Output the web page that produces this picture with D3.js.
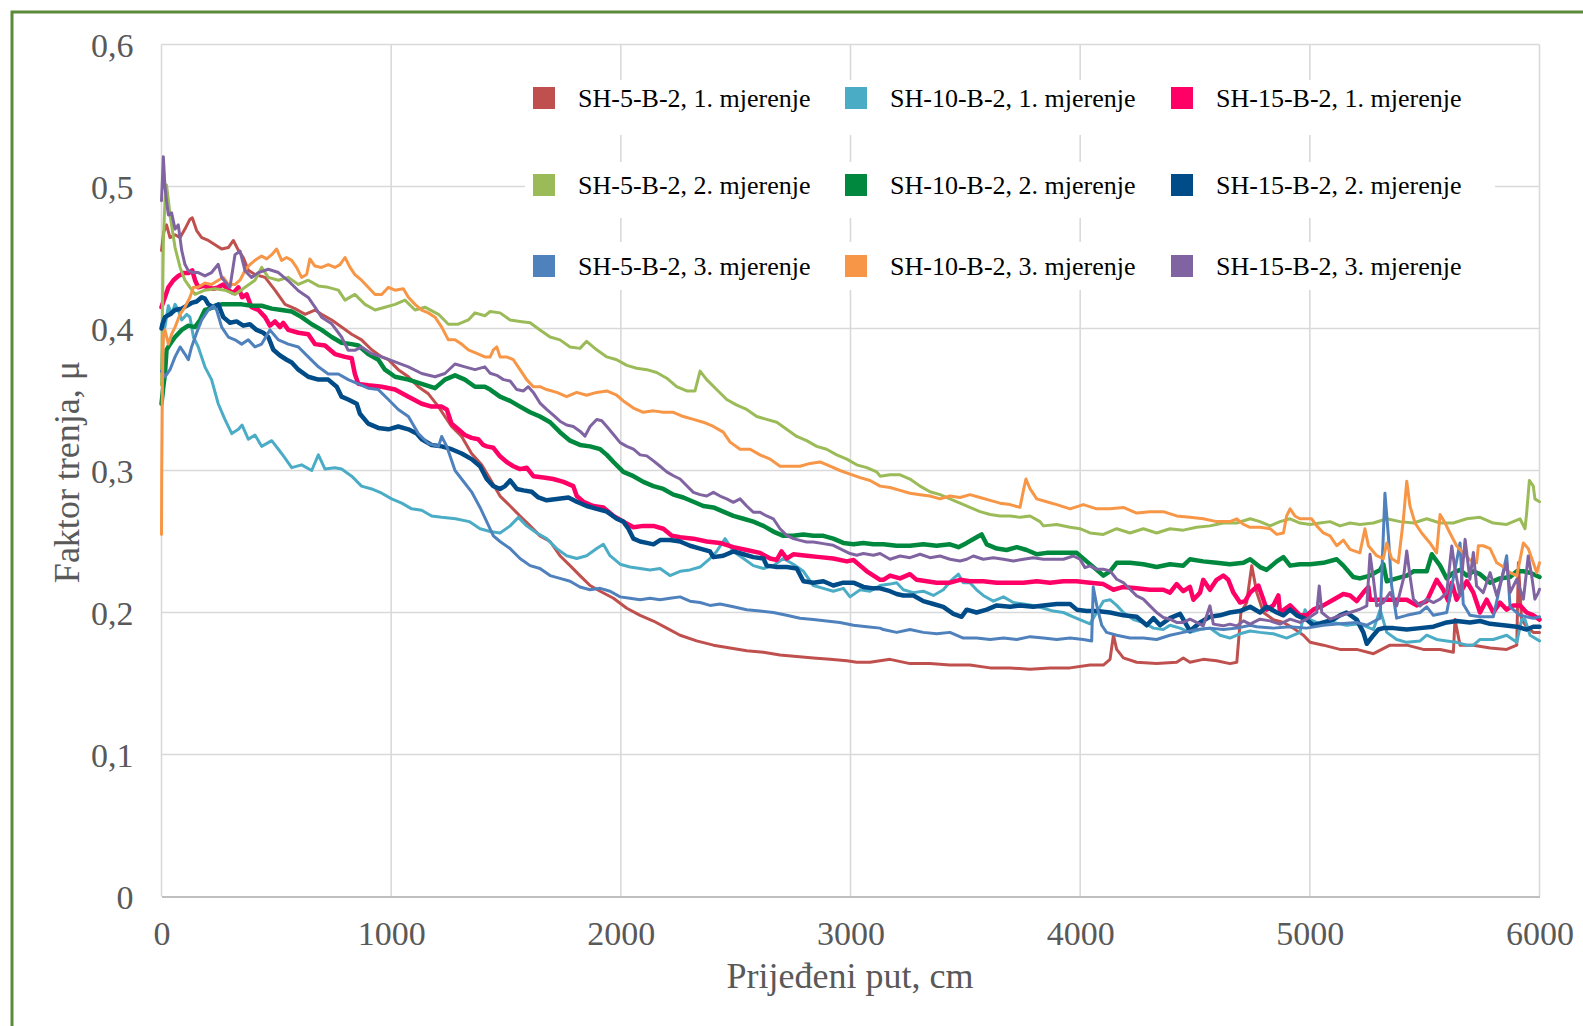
<!DOCTYPE html>
<html>
<head>
<meta charset="utf-8">
<script src="https://cdn.jsdelivr.net/npm/d3@7"></script>
<style>
html,body{margin:0;padding:0;background:#fff;}
svg{display:block;}
</style>
</head>
<body>
<svg id="chart" width="1583" height="1026"></svg>
<script>
// ---------- DATA (distance in cm, friction factor μ) ----------
const seriesNames = [
  "SH-5-B-2, 1. mjerenje","SH-10-B-2, 1. mjerenje","SH-15-B-2, 1. mjerenje",
  "SH-5-B-2, 2. mjerenje","SH-10-B-2, 2. mjerenje","SH-15-B-2, 2. mjerenje",
  "SH-5-B-2, 3. mjerenje","SH-10-B-2, 3. mjerenje","SH-15-B-2, 3. mjerenje"
];
const xTicks = [0,1000,2000,3000,4000,5000,6000];
const yTicks = [0,0.1,0.2,0.3,0.4,0.5,0.6];
const yTickLabels = ["0","0,1","0,2","0,3","0,4","0,5","0,6"];
const xTitle = "Prijeđeni put, cm";
const yTitle = "Faktor trenja, μ";

const sh5_1 = [[0,0.455],[10,0.468],[22,0.473],[37,0.464],[59,0.466],[81,0.464],[102,0.470],[124,0.477],[134,0.478],[153,0.469],[175,0.464],[204,0.462],[233,0.459],[262,0.456],[291,0.457],[313,0.462],[335,0.455],[356,0.450],[378,0.441],[407,0.438],[451,0.436],[494,0.427],[538,0.417],[581,0.414],[625,0.410],[668,0.413],[697,0.410],[741,0.406],[784,0.401],[828,0.396],[871,0.392],[915,0.385],[959,0.380],[988,0.378],[1031,0.371],[1075,0.366],[1118,0.359],[1162,0.354],[1206,0.345],[1234,0.338],[1263,0.331],[1307,0.324],[1350,0.312],[1394,0.304],[1431,0.294],[1474,0.282],[1518,0.275],[1561,0.268],[1605,0.261],[1648,0.254],[1692,0.250],[1735,0.240],[1779,0.233],[1822,0.226],[1866,0.219],[1910,0.215],[1968,0.210],[2026,0.203],[2084,0.198],[2142,0.194],[2200,0.189],[2258,0.184],[2330,0.180],[2403,0.177],[2476,0.175],[2548,0.173],[2621,0.172],[2693,0.170],[2766,0.169],[2838,0.168],[2911,0.167],[2984,0.166],[3027,0.165],[3085,0.165],[3172,0.167],[3259,0.164],[3346,0.164],[3433,0.163],[3520,0.163],[3608,0.161],[3695,0.161],[3782,0.160],[3869,0.161],[3956,0.161],[4043,0.163],[4101,0.163],[4130,0.167],[4145,0.184],[4159,0.174],[4188,0.168],[4246,0.165],[4333,0.164],[4420,0.165],[4449,0.168],[4478,0.165],[4536,0.167],[4594,0.166],[4652,0.164],[4682,0.165],[4700,0.200],[4725,0.207],[4747,0.233],[4769,0.214],[4798,0.200],[4841,0.195],[4885,0.193],[4928,0.189],[4972,0.184],[5001,0.179],[5059,0.177],[5131,0.174],[5204,0.174],[5277,0.171],[5349,0.177],[5422,0.177],[5494,0.174],[5567,0.174],[5625,0.172],[5632,0.195],[5654,0.177],[5712,0.177],[5785,0.175],[5857,0.174],[5901,0.177],[5908,0.235],[5922,0.195],[5944,0.190],[5973,0.186],[6000,0.186]];

const sh10_1 = [[0,0.37],[8,0.40],[15,0.401],[30,0.416],[44,0.410],[59,0.417],[73,0.413],[88,0.406],[110,0.410],[124,0.408],[139,0.394],[160,0.387],[189,0.373],[218,0.364],[247,0.347],[276,0.336],[306,0.326],[335,0.329],[351,0.332],[378,0.322],[407,0.325],[436,0.317],[480,0.321],[523,0.312],[567,0.302],[610,0.304],[654,0.300],[683,0.311],[712,0.301],[755,0.302],[784,0.301],[828,0.296],[871,0.289],[915,0.287],[959,0.284],[1002,0.280],[1046,0.277],[1089,0.273],[1133,0.272],[1176,0.268],[1220,0.267],[1280,0.266],[1340,0.264],[1387,0.259],[1431,0.257],[1474,0.256],[1518,0.261],[1554,0.267],[1590,0.261],[1634,0.256],[1677,0.252],[1721,0.245],[1764,0.240],[1808,0.238],[1851,0.240],[1895,0.245],[1924,0.248],[1953,0.240],[1997,0.234],[2040,0.232],[2084,0.231],[2127,0.230],[2171,0.231],[2214,0.226],[2258,0.229],[2301,0.230],[2345,0.232],[2388,0.238],[2417,0.243],[2454,0.252],[2490,0.243],[2534,0.238],[2577,0.233],[2621,0.231],[2664,0.233],[2708,0.238],[2751,0.234],[2795,0.229],[2838,0.219],[2882,0.217],[2925,0.215],[2969,0.217],[2998,0.211],[3042,0.216],[3085,0.215],[3129,0.219],[3172,0.220],[3201,0.221],[3230,0.216],[3274,0.214],[3317,0.215],[3361,0.212],[3404,0.216],[3441,0.223],[3470,0.227],[3491,0.221],[3520,0.221],[3549,0.216],[3578,0.212],[3622,0.208],[3666,0.211],[3709,0.207],[3753,0.206],[3796,0.205],[3840,0.203],[3883,0.201],[3927,0.200],[3970,0.197],[4014,0.194],[4043,0.192],[4072,0.200],[4101,0.208],[4130,0.209],[4159,0.205],[4188,0.200],[4232,0.195],[4275,0.193],[4319,0.189],[4362,0.188],[4391,0.191],[4435,0.189],[4478,0.186],[4522,0.188],[4565,0.189],[4609,0.184],[4652,0.182],[4696,0.185],[4740,0.187],[4783,0.186],[4841,0.185],[4899,0.182],[4957,0.186],[4979,0.202],[5001,0.195],[5044,0.192],[5102,0.193],[5160,0.191],[5218,0.192],[5277,0.188],[5306,0.202],[5335,0.186],[5378,0.181],[5422,0.179],[5480,0.180],[5509,0.184],[5552,0.181],[5596,0.180],[5639,0.179],[5683,0.177],[5712,0.177],[5741,0.181],[5799,0.181],[5857,0.184],[5901,0.179],[5922,0.195],[5937,0.195],[5959,0.184],[6000,0.180]];

const sh15_1 = [[0,0.415],[4,0.417],[15,0.422],[30,0.429],[52,0.434],[73,0.437],[95,0.439],[117,0.439],[134,0.441],[146,0.434],[160,0.429],[182,0.430],[204,0.429],[226,0.428],[247,0.429],[269,0.431],[291,0.427],[313,0.425],[335,0.429],[351,0.422],[371,0.424],[392,0.415],[422,0.413],[451,0.408],[472,0.402],[494,0.405],[516,0.401],[530,0.404],[552,0.399],[596,0.397],[639,0.396],[668,0.389],[712,0.388],[755,0.382],[799,0.380],[828,0.379],[842,0.368],[857,0.361],[900,0.360],[959,0.359],[1017,0.357],[1075,0.352],[1133,0.347],[1176,0.345],[1220,0.345],[1242,0.343],[1263,0.333],[1292,0.329],[1321,0.325],[1350,0.323],[1379,0.322],[1401,0.318],[1416,0.317],[1445,0.316],[1474,0.310],[1503,0.306],[1532,0.303],[1561,0.301],[1590,0.302],[1619,0.296],[1663,0.295],[1706,0.294],[1750,0.292],[1793,0.289],[1808,0.282],[1837,0.278],[1880,0.275],[1924,0.274],[1968,0.268],[2011,0.264],[2055,0.260],[2098,0.261],[2142,0.261],[2185,0.259],[2222,0.254],[2258,0.253],[2316,0.252],[2374,0.250],[2432,0.249],[2490,0.246],[2548,0.244],[2606,0.242],[2650,0.238],[2679,0.237],[2700,0.243],[2722,0.238],[2751,0.241],[2809,0.240],[2867,0.239],[2925,0.238],[2984,0.236],[3013,0.237],[3042,0.233],[3071,0.229],[3100,0.226],[3129,0.223],[3143,0.223],[3172,0.226],[3216,0.224],[3259,0.227],[3288,0.223],[3332,0.222],[3375,0.221],[3433,0.221],[3477,0.223],[3520,0.222],[3578,0.222],[3637,0.221],[3695,0.221],[3753,0.221],[3811,0.222],[3869,0.221],[3927,0.222],[3985,0.222],[4043,0.221],[4101,0.220],[4145,0.216],[4188,0.218],[4246,0.217],[4304,0.216],[4362,0.216],[4391,0.214],[4420,0.220],[4449,0.215],[4478,0.218],[4493,0.209],[4522,0.214],[4536,0.223],[4565,0.216],[4594,0.223],[4623,0.226],[4645,0.223],[4667,0.214],[4696,0.207],[4718,0.208],[4740,0.214],[4754,0.216],[4776,0.219],[4798,0.209],[4812,0.202],[4841,0.205],[4863,0.212],[4870,0.200],[4914,0.205],[4957,0.198],[4986,0.198],[5015,0.202],[5059,0.205],[5102,0.209],[5146,0.213],[5175,0.212],[5204,0.208],[5233,0.214],[5255,0.218],[5262,0.209],[5306,0.209],[5364,0.209],[5422,0.209],[5465,0.205],[5509,0.208],[5552,0.223],[5581,0.216],[5603,0.208],[5618,0.221],[5639,0.209],[5683,0.222],[5712,0.214],[5741,0.200],[5770,0.209],[5799,0.200],[5828,0.207],[5857,0.202],[5886,0.205],[5915,0.205],[5944,0.200],[5973,0.198],[6000,0.195]];

const sh5_2 = [[0,0.36],[4,0.41],[8,0.46],[15,0.49],[22,0.501],[30,0.49],[37,0.480],[59,0.457],[81,0.443],[102,0.434],[124,0.429],[146,0.424],[189,0.427],[233,0.428],[276,0.427],[320,0.424],[364,0.429],[407,0.434],[436,0.443],[465,0.436],[509,0.434],[552,0.436],[596,0.431],[639,0.434],[683,0.430],[726,0.429],[770,0.427],[799,0.420],[842,0.424],[886,0.417],[930,0.413],[973,0.415],[1017,0.417],[1060,0.420],[1104,0.413],[1147,0.415],[1206,0.410],[1249,0.403],[1292,0.403],[1336,0.406],[1365,0.411],[1408,0.409],[1431,0.412],[1474,0.411],[1518,0.406],[1561,0.405],[1605,0.404],[1648,0.399],[1692,0.394],[1735,0.392],[1779,0.387],[1822,0.386],[1851,0.391],[1895,0.385],[1939,0.380],[1982,0.378],[2026,0.374],[2069,0.372],[2113,0.371],[2156,0.369],[2200,0.365],[2243,0.359],[2287,0.356],[2323,0.356],[2345,0.370],[2374,0.364],[2417,0.357],[2461,0.350],[2505,0.346],[2548,0.343],[2592,0.338],[2635,0.336],[2679,0.334],[2722,0.329],[2766,0.324],[2809,0.321],[2853,0.317],[2896,0.315],[2940,0.311],[2984,0.308],[3027,0.304],[3071,0.302],[3114,0.299],[3129,0.296],[3172,0.297],[3216,0.297],[3259,0.294],[3303,0.289],[3346,0.285],[3390,0.283],[3433,0.280],[3477,0.277],[3520,0.274],[3564,0.271],[3608,0.269],[3651,0.268],[3695,0.268],[3738,0.267],[3782,0.268],[3825,0.264],[3840,0.261],[3898,0.262],[3956,0.260],[3999,0.259],[4043,0.256],[4101,0.255],[4159,0.259],[4217,0.256],[4275,0.259],[4333,0.256],[4391,0.259],[4449,0.258],[4507,0.260],[4565,0.261],[4623,0.263],[4682,0.263],[4740,0.266],[4783,0.264],[4827,0.261],[4870,0.264],[4914,0.266],[4957,0.263],[5001,0.262],[5044,0.263],[5088,0.264],[5131,0.261],[5175,0.263],[5218,0.262],[5277,0.263],[5335,0.266],[5393,0.264],[5451,0.263],[5509,0.266],[5567,0.263],[5625,0.263],[5683,0.266],[5741,0.267],[5799,0.263],[5857,0.262],[5915,0.266],[5937,0.259],[5944,0.270],[5956,0.293],[5973,0.289],[5980,0.280],[6000,0.278]];

const sh10_2 = [[0,0.347],[8,0.359],[15,0.368],[22,0.385],[37,0.389],[59,0.394],[88,0.399],[117,0.402],[146,0.401],[168,0.406],[189,0.413],[211,0.414],[233,0.416],[262,0.417],[306,0.417],[349,0.417],[392,0.416],[436,0.416],[480,0.414],[523,0.413],[567,0.412],[610,0.408],[654,0.403],[697,0.399],[741,0.394],[784,0.390],[828,0.389],[857,0.388],[900,0.382],[944,0.378],[973,0.371],[1017,0.366],[1075,0.364],[1133,0.361],[1191,0.358],[1234,0.364],[1278,0.367],[1321,0.364],[1365,0.359],[1408,0.359],[1431,0.357],[1474,0.352],[1518,0.349],[1561,0.345],[1605,0.341],[1648,0.338],[1692,0.334],[1735,0.327],[1779,0.321],[1822,0.318],[1866,0.317],[1910,0.315],[1939,0.311],[1968,0.306],[2011,0.299],[2055,0.296],[2098,0.292],[2142,0.289],[2185,0.287],[2229,0.283],[2272,0.281],[2316,0.278],[2359,0.275],[2403,0.274],[2446,0.271],[2490,0.268],[2534,0.266],[2577,0.264],[2621,0.261],[2664,0.257],[2708,0.254],[2751,0.254],[2795,0.255],[2838,0.254],[2882,0.254],[2925,0.252],[2969,0.249],[3013,0.248],[3056,0.249],[3100,0.248],[3143,0.248],[3201,0.247],[3259,0.247],[3317,0.248],[3375,0.247],[3433,0.248],[3470,0.246],[3506,0.249],[3549,0.253],[3571,0.255],[3593,0.248],[3637,0.245],[3680,0.244],[3724,0.246],[3767,0.244],[3811,0.241],[3854,0.242],[3898,0.242],[3956,0.242],[3985,0.242],[4028,0.236],[4072,0.230],[4101,0.226],[4130,0.229],[4159,0.235],[4217,0.235],[4275,0.234],[4333,0.232],[4391,0.234],[4449,0.233],[4478,0.2375],[4536,0.236],[4594,0.235],[4652,0.234],[4711,0.235],[4740,0.2375],[4783,0.232],[4812,0.230],[4856,0.236],[4885,0.239],[4914,0.233],[4957,0.234],[5001,0.234],[5059,0.235],[5117,0.2375],[5146,0.233],[5189,0.225],[5218,0.224],[5262,0.226],[5306,0.230],[5320,0.234],[5335,0.222],[5378,0.224],[5422,0.226],[5451,0.229],[5509,0.229],[5531,0.241],[5567,0.233],[5596,0.224],[5625,0.228],[5654,0.230],[5683,0.226],[5712,0.229],[5741,0.227],[5785,0.221],[5828,0.224],[5872,0.225],[5901,0.229],[5930,0.229],[5959,0.228],[6000,0.225]];

const sh15_2 = [[0,0.400],[4,0.403],[15,0.408],[37,0.410],[59,0.413],[88,0.414],[110,0.416],[131,0.418],[153,0.419],[175,0.422],[189,0.421],[204,0.417],[226,0.415],[247,0.417],[269,0.408],[298,0.404],[327,0.405],[356,0.402],[385,0.403],[414,0.399],[443,0.397],[465,0.394],[487,0.385],[516,0.381],[545,0.378],[567,0.376],[596,0.371],[639,0.366],[683,0.364],[726,0.364],[763,0.359],[784,0.352],[813,0.350],[850,0.347],[864,0.340],[900,0.333],[944,0.330],[988,0.329],[1031,0.331],[1075,0.329],[1111,0.326],[1133,0.322],[1176,0.318],[1220,0.317],[1263,0.315],[1307,0.312],[1350,0.308],[1387,0.303],[1416,0.294],[1445,0.289],[1474,0.287],[1496,0.289],[1518,0.293],[1547,0.287],[1576,0.286],[1612,0.285],[1641,0.281],[1677,0.279],[1721,0.280],[1772,0.281],[1808,0.278],[1851,0.275],[1895,0.273],[1939,0.271],[1982,0.266],[2011,0.264],[2033,0.259],[2055,0.252],[2084,0.250],[2113,0.249],[2142,0.248],[2171,0.251],[2214,0.251],[2258,0.250],[2301,0.247],[2345,0.245],[2388,0.243],[2403,0.239],[2446,0.240],[2490,0.243],[2534,0.241],[2577,0.239],[2621,0.238],[2635,0.233],[2679,0.232],[2722,0.232],[2766,0.231],[2795,0.222],[2838,0.221],[2882,0.222],[2925,0.219],[2969,0.221],[3013,0.221],[3056,0.218],[3100,0.217],[3129,0.217],[3172,0.215],[3201,0.213],[3230,0.212],[3274,0.212],[3317,0.208],[3361,0.206],[3404,0.204],[3448,0.199],[3484,0.197],[3506,0.202],[3549,0.200],[3593,0.202],[3637,0.205],[3695,0.204],[3738,0.205],[3796,0.204],[3840,0.205],[3898,0.206],[3956,0.206],[3985,0.202],[4028,0.201],[4072,0.201],[4130,0.200],[4188,0.198],[4246,0.197],[4290,0.191],[4319,0.196],[4348,0.191],[4391,0.196],[4435,0.199],[4478,0.187],[4522,0.193],[4565,0.197],[4609,0.198],[4652,0.200],[4696,0.201],[4740,0.204],[4783,0.200],[4812,0.204],[4856,0.200],[4885,0.198],[4914,0.202],[4943,0.198],[4986,0.195],[5015,0.191],[5059,0.193],[5102,0.195],[5131,0.198],[5160,0.200],[5204,0.195],[5233,0.186],[5248,0.178],[5277,0.184],[5298,0.188],[5320,0.189],[5364,0.189],[5422,0.188],[5480,0.189],[5538,0.190],[5596,0.193],[5639,0.194],[5697,0.193],[5741,0.194],[5785,0.192],[5843,0.191],[5901,0.190],[5944,0.188],[5973,0.190],[6000,0.190]];

const sh5_3 = [[0,0.370],[15,0.366],[37,0.371],[59,0.380],[81,0.387],[102,0.382],[117,0.378],[131,0.387],[153,0.397],[175,0.406],[204,0.413],[226,0.416],[240,0.413],[262,0.401],[291,0.394],[320,0.392],[349,0.389],[378,0.392],[407,0.387],[436,0.389],[472,0.399],[509,0.392],[552,0.389],[596,0.387],[639,0.380],[683,0.373],[726,0.368],[770,0.368],[813,0.364],[857,0.361],[900,0.358],[944,0.357],[988,0.350],[1031,0.343],[1075,0.338],[1118,0.326],[1162,0.319],[1206,0.317],[1220,0.324],[1242,0.317],[1278,0.300],[1321,0.291],[1350,0.285],[1387,0.274],[1416,0.264],[1445,0.254],[1474,0.250],[1518,0.245],[1561,0.238],[1605,0.233],[1648,0.231],[1692,0.226],[1735,0.224],[1779,0.222],[1822,0.218],[1866,0.216],[1910,0.217],[1953,0.215],[1997,0.211],[2040,0.210],[2084,0.209],[2127,0.210],[2171,0.209],[2214,0.210],[2258,0.211],[2301,0.208],[2345,0.207],[2388,0.205],[2432,0.206],[2490,0.204],[2548,0.202],[2606,0.201],[2664,0.200],[2722,0.198],[2780,0.196],[2838,0.195],[2896,0.194],[2954,0.193],[3013,0.191],[3071,0.190],[3129,0.189],[3143,0.188],[3201,0.186],[3259,0.188],[3317,0.186],[3375,0.185],[3433,0.186],[3491,0.182],[3549,0.182],[3608,0.181],[3666,0.182],[3724,0.181],[3782,0.183],[3840,0.182],[3898,0.181],[3956,0.182],[4014,0.181],[4050,0.180],[4057,0.218],[4072,0.205],[4094,0.191],[4115,0.186],[4159,0.184],[4217,0.182],[4275,0.182],[4333,0.181],[4391,0.184],[4449,0.186],[4507,0.188],[4565,0.189],[4623,0.188],[4682,0.189],[4740,0.191],[4769,0.190],[4841,0.189],[4914,0.190],[4986,0.189],[5059,0.191],[5131,0.192],[5204,0.193],[5248,0.191],[5306,0.196],[5327,0.284],[5342,0.254],[5356,0.219],[5378,0.196],[5422,0.198],[5480,0.200],[5509,0.204],[5538,0.198],[5596,0.200],[5654,0.249],[5668,0.206],[5697,0.198],[5741,0.197],[5799,0.197],[5857,0.240],[5872,0.204],[5915,0.198],[5973,0.196],[6000,0.197]];

const sh10_3 = [[0,0.255],[1,0.300],[4,0.360],[8,0.395],[15,0.399],[30,0.389],[44,0.396],[59,0.401],[81,0.410],[102,0.415],[124,0.422],[139,0.429],[160,0.429],[189,0.432],[218,0.431],[247,0.434],[269,0.436],[291,0.431],[320,0.431],[342,0.434],[364,0.441],[385,0.445],[407,0.448],[436,0.451],[458,0.449],[480,0.452],[501,0.456],[523,0.448],[545,0.450],[567,0.448],[588,0.443],[610,0.436],[632,0.438],[646,0.449],[668,0.444],[697,0.443],[726,0.445],[755,0.443],[777,0.445],[799,0.450],[821,0.443],[842,0.438],[871,0.434],[900,0.429],[930,0.424],[959,0.424],[988,0.429],[1017,0.427],[1053,0.428],[1075,0.422],[1104,0.417],[1133,0.413],[1162,0.411],[1191,0.408],[1220,0.401],[1249,0.392],[1278,0.392],[1307,0.389],[1336,0.385],[1365,0.383],[1408,0.380],[1431,0.380],[1445,0.385],[1460,0.387],[1474,0.380],[1503,0.380],[1532,0.378],[1561,0.371],[1590,0.364],[1619,0.359],[1648,0.359],[1677,0.357],[1721,0.355],[1764,0.352],[1808,0.355],[1851,0.353],[1895,0.355],[1939,0.356],[1982,0.353],[2011,0.349],[2055,0.344],[2098,0.341],[2142,0.342],[2185,0.341],[2229,0.341],[2272,0.338],[2316,0.336],[2359,0.334],[2403,0.331],[2446,0.327],[2476,0.320],[2519,0.315],[2563,0.315],[2606,0.311],[2650,0.308],[2693,0.303],[2737,0.303],[2780,0.303],[2824,0.305],[2867,0.306],[2911,0.303],[2954,0.300],[2998,0.2975],[3042,0.295],[3085,0.293],[3129,0.289],[3172,0.288],[3216,0.286],[3259,0.284],[3303,0.283],[3346,0.282],[3390,0.280],[3433,0.282],[3477,0.281],[3520,0.283],[3564,0.281],[3608,0.279],[3651,0.277],[3695,0.276],[3738,0.274],[3753,0.286],[3764,0.294],[3782,0.287],[3811,0.280],[3854,0.278],[3898,0.276],[3956,0.273],[4014,0.276],[4072,0.273],[4130,0.273],[4188,0.274],[4246,0.270],[4304,0.271],[4362,0.271],[4420,0.268],[4478,0.267],[4536,0.266],[4594,0.264],[4652,0.264],[4682,0.266],[4711,0.262],[4740,0.260],[4783,0.260],[4827,0.259],[4856,0.255],[4885,0.256],[4899,0.268],[4914,0.273],[4935,0.268],[4957,0.266],[4986,0.266],[5008,0.266],[5030,0.261],[5059,0.256],[5088,0.254],[5117,0.247],[5146,0.251],[5175,0.2445],[5218,0.242],[5240,0.259],[5255,0.247],[5291,0.240],[5320,0.238],[5335,0.249],[5356,0.238],[5385,0.235],[5407,0.265],[5422,0.2925],[5436,0.275],[5458,0.263],[5487,0.256],[5523,0.249],[5552,0.242],[5567,0.269],[5589,0.263],[5610,0.256],[5639,0.247],[5668,0.242],[5697,0.237],[5726,0.235],[5734,0.247],[5755,0.247],[5785,0.245],[5814,0.235],[5843,0.232],[5872,0.228],[5901,0.226],[5930,0.249],[5951,0.245],[5973,0.235],[5988,0.228],[6000,0.235]];

const sh15_3 = [[0,0.490],[4,0.505],[8,0.521],[15,0.500],[22,0.4895],[30,0.480],[44,0.4814],[59,0.470],[73,0.473],[88,0.455],[102,0.4452],[117,0.4406],[139,0.4394],[160,0.4394],[189,0.437],[218,0.4394],[247,0.4452],[262,0.4359],[298,0.4289],[320,0.452],[342,0.4545],[364,0.4406],[392,0.4359],[422,0.4394],[465,0.4417],[509,0.4394],[552,0.4336],[596,0.4266],[639,0.4219],[669,0.4149],[697,0.4079],[741,0.4033],[784,0.394],[813,0.3846],[842,0.3846],[871,0.387],[915,0.3823],[959,0.380],[1017,0.3765],[1075,0.373],[1133,0.3683],[1191,0.366],[1234,0.3683],[1278,0.375],[1321,0.373],[1365,0.371],[1408,0.373],[1431,0.3685],[1460,0.367],[1489,0.364],[1518,0.363],[1547,0.357],[1576,0.356],[1597,0.359],[1619,0.355],[1648,0.3475],[1677,0.343],[1706,0.339],[1735,0.3347],[1764,0.332],[1793,0.331],[1822,0.3277],[1844,0.3242],[1866,0.331],[1895,0.3359],[1917,0.335],[1939,0.331],[1968,0.3254],[1997,0.3196],[2026,0.317],[2055,0.315],[2084,0.311],[2113,0.3103],[2142,0.3068],[2171,0.303],[2200,0.299],[2229,0.2963],[2258,0.294],[2287,0.2893],[2316,0.2846],[2345,0.283],[2374,0.282],[2403,0.2846],[2432,0.282],[2461,0.280],[2490,0.2776],[2519,0.280],[2548,0.275],[2577,0.2706],[2606,0.2706],[2635,0.268],[2664,0.266],[2693,0.259],[2722,0.2543],[2751,0.252],[2780,0.2508],[2809,0.2497],[2838,0.2497],[2882,0.2485],[2925,0.2473],[2969,0.2438],[2998,0.2415],[3027,0.2403],[3056,0.2415],[3100,0.2403],[3129,0.2415],[3172,0.2375],[3216,0.2398],[3259,0.2386],[3303,0.241],[3346,0.2386],[3390,0.2398],[3433,0.2375],[3477,0.2363],[3506,0.2375],[3535,0.2398],[3578,0.2375],[3622,0.2386],[3666,0.2375],[3709,0.2363],[3753,0.2375],[3796,0.2386],[3840,0.2375],[3883,0.2375],[3927,0.2375],[3970,0.2398],[3999,0.2375],[4021,0.2316],[4043,0.2328],[4072,0.2304],[4101,0.2304],[4130,0.2293],[4159,0.2234],[4188,0.2211],[4217,0.2164],[4246,0.2117],[4275,0.2094],[4304,0.2047],[4333,0.200],[4362,0.1965],[4391,0.1953],[4420,0.193],[4449,0.193],[4478,0.1953],[4507,0.193],[4536,0.1906],[4565,0.2047],[4580,0.1918],[4623,0.1906],[4652,0.1918],[4682,0.1906],[4711,0.1941],[4740,0.1918],[4783,0.1953],[4827,0.1941],[4870,0.1918],[4914,0.1953],[4957,0.193],[4986,0.1953],[5030,0.200],[5041,0.2187],[5052,0.200],[5088,0.1953],[5131,0.1977],[5175,0.200],[5218,0.2023],[5248,0.2047],[5262,0.241],[5277,0.2234],[5291,0.2047],[5320,0.207],[5349,0.214],[5378,0.2047],[5407,0.2234],[5422,0.2433],[5436,0.2258],[5451,0.2094],[5480,0.2047],[5509,0.2094],[5538,0.207],[5567,0.2094],[5596,0.214],[5618,0.2468],[5632,0.2304],[5654,0.2117],[5676,0.2515],[5697,0.2234],[5712,0.2422],[5726,0.2187],[5755,0.214],[5785,0.2281],[5814,0.2117],[5843,0.2281],[5857,0.2351],[5872,0.214],[5901,0.2234],[5930,0.2094],[5951,0.2398],[5966,0.2258],[5980,0.2094],[5995,0.214],[6000,0.2164]];

const seriesData = [sh5_1, sh10_1, sh15_1, sh5_2, sh10_2, sh15_2, sh5_3, sh10_3, sh15_3];

// ---------- STYLE ----------
const colors = ["#C0504D","#4BACC6","#FF0066","#9BBB59","#00893E","#004C88","#4F81BD","#F79646","#8064A2"];
const widths = [3,3,4.5,3,4.5,4.5,3,3,3];
const FONT = "'Liberation Serif','Times New Roman',serif";

const svg = d3.select("#chart");
const plot = {left:161.5, right:1539.5, top:44.5, bottom:896.5};

// frame
svg.append("rect").attr("x",12).attr("y",12).attr("width",1640).attr("height",1100)
  .attr("fill","none").attr("stroke","#5B8B3A").attr("stroke-width",3);

const x = d3.scaleLinear().domain([0,6000]).range([plot.left, plot.right]);
const y = d3.scaleLinear().domain([0,0.6]).range([plot.bottom, plot.top]);

// gridlines
const grid = svg.append("g");
grid.selectAll("line.h").data(yTicks.slice(1)).join("line")
  .attr("x1",plot.left).attr("x2",plot.right)
  .attr("y1",d=>y(d)).attr("y2",d=>y(d))
  .attr("stroke","#D9D9D9").attr("stroke-width",1.6);
grid.selectAll("line.v").data(xTicks).join("line")
  .attr("x1",d=>x(d)).attr("x2",d=>x(d))
  .attr("y1",plot.top).attr("y2",plot.bottom)
  .attr("stroke","#D9D9D9").attr("stroke-width",1.6);

// axes via d3 axis generators
const xAxis = d3.axisBottom(x).tickValues(xTicks).tickSize(0).tickPadding(24).tickFormat(d=>String(d));
const gx = svg.append("g").attr("transform",`translate(0,${plot.bottom})`).call(xAxis);
gx.select(".domain").attr("stroke","#BFBFBF").attr("stroke-width",1.8);
gx.selectAll("text").attr("font-family",FONT).attr("font-size",34).attr("fill","#595959")
  .attr("dy",null).attr("y",null).attr("dominant-baseline","central")
  .attr("transform","translate(0,37)");

const yAxis = d3.axisLeft(y).tickValues(yTicks).tickSize(0).tickPadding(28)
  .tickFormat((d,i)=>yTickLabels[i]);
const gy = svg.append("g").attr("transform",`translate(${plot.left},0)`).call(yAxis);
gy.select(".domain").remove();
gy.selectAll("text").attr("font-family",FONT).attr("font-size",34).attr("fill","#595959")
  .attr("dy",null).attr("dominant-baseline","central");

// axis titles
svg.append("text").attr("x",850).attr("y",988).attr("text-anchor","middle")
  .attr("font-family",FONT).attr("font-size",36).attr("fill","#595959").text(xTitle);
svg.append("text").attr("transform","translate(79,472) rotate(-90)").attr("text-anchor","middle")
  .attr("font-family",FONT).attr("font-size",36).attr("fill","#595959").text(yTitle);

// series lines
svg.append("clipPath").attr("id","clip").append("rect")
  .attr("x",plot.left-3).attr("y",plot.top-10).attr("width",plot.right-plot.left+6).attr("height",plot.bottom-plot.top+10);
const line = d3.line().x(d=>x(d[0])).y(d=>y(d[1]));
const lines = svg.append("g").attr("clip-path","url(#clip)");
seriesData.forEach((data,i)=>{
  lines.append("path").datum(data).attr("d",line)
    .attr("fill","none").attr("stroke",colors[i]).attr("stroke-width",widths[i])
    .attr("stroke-linejoin","round").attr("stroke-linecap","round");
});

// legend (3 x 3, row-wise)
const legCols = [533, 845, 1171];
const legBoxL = [525, 838, 1162];
const legBoxR = [838, 1162, 1495];
const legRows = [98, 185, 266];
const legBoxTop = [80, 162, 242];
const legBoxBot = [135, 218, 290];
const leg = svg.append("g");
seriesNames.forEach((name,i)=>{
  const r = Math.floor(i/3), c = i%3;
  leg.append("rect").attr("x",legBoxL[c]).attr("y",legBoxTop[r])
    .attr("width",legBoxR[c]-legBoxL[c]).attr("height",legBoxBot[r]-legBoxTop[r]).attr("fill","#fff");
  leg.append("rect").attr("x",legCols[c]).attr("y",legRows[r]-11).attr("width",22).attr("height",22)
    .attr("fill",colors[i]);
  leg.append("text").attr("x",legCols[c]+45).attr("y",legRows[r]).attr("dominant-baseline","central")
    .attr("font-family",FONT).attr("font-size",26).attr("fill","#000").text(name);
});
</script>
</body>
</html>
